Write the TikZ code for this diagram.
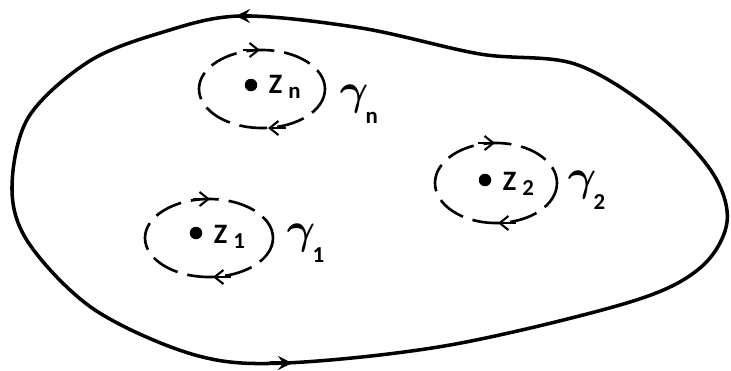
\documentclass[tikz,border=0pt]{standalone}
\usepackage{amsmath,amssymb,bm}
\usepackage{fontspec}
\setmainfont{Carlito}
\usetikzlibrary{arrows.meta}

\newcommand{\zlab}[1]{\fontsize{16}{18}\selectfont\bfseries Z\kern3.5pt\raisebox{-0.4ex}{\fontsize{13}{14}\selectfont #1}}
\newcommand{\glab}[1]{\fontsize{23}{24}\selectfont$\bm{\gamma}$\kern-1.5pt\raisebox{-1.0ex}{\fontsize{13}{14}\selectfont\bfseries #1}}

\begin{document}
\begin{tikzpicture}[x=0.02cm,y=-0.02cm,line width=2pt,color=black,
    >={Stealth[length=8pt,width=8pt,inset=3pt]},
    dot/.style={circle,fill,inner sep=0pt,minimum size=0.25cm},
    loop/.style={line width=1.5pt,dash pattern=on 0.56cm off 0.2cm},
    barb/.style={line width=1.2pt,-{Straight Barb[length=5pt,width=8pt]}}]
\useasboundingbox (0,0) rectangle (731,370);
			% outer contour
			\draw plot[smooth cycle,tension=0.55] coordinates {(240,16) (361,28) (480,54) (575,64) (655,112) (712,172) (727,222) (700,268) (630,302) (450,345) (285,363) (195,355) (95,310) (30,245) (12,190) (28,118) (88,62) (160,33)};
			\draw[->] (252,16) -- (236,16);
			\draw[->] (270,363) -- (292,363);
			% points
			\node[dot] (zn) at (251,85) {};
			\node[dot] (z2) at (485,180) {};
			\node[dot] (z1) at (196,233) {};
			\node[anchor=west,inner sep=0pt] (lzn) at (267,87) {\zlab{n}};
			\node[anchor=west,inner sep=0pt] (lz2) at (501,184) {\zlab{2}};
			\node[anchor=west,inner sep=0pt] (lz1) at (212,237) {\zlab{1}};
			% small loops
			\coordinate (cn) at (262,89);
			\coordinate (c2) at (496,183);
			\coordinate (c1) at (209,238);
			\draw[loop] (cn) ellipse [x radius=63,y radius=39];
			\draw[loop] (c2) ellipse [x radius=61,y radius=40];
			\draw[loop] (c1) ellipse [x radius=64,y radius=39];
			\draw[barb] (243,50) -- (260,50);
			\draw[barb] (286,128) -- (268,128);
			\draw[barb] (478,143) -- (495,143);
			\draw[barb] (516,223) -- (498,223);
			\draw[barb] (193,199) -- (210,199);
			\draw[barb] (231,277) -- (213,277);
			\node[anchor=west,inner sep=0pt] (gn) at (338,104) {\glab{n}};
			\node[anchor=west,inner sep=0pt] (g2) at (566,190) {\glab{2}};
			\node[anchor=west,inner sep=0pt] (g1) at (285,243) {\glab{1}};
		\end{tikzpicture}
\end{document}
